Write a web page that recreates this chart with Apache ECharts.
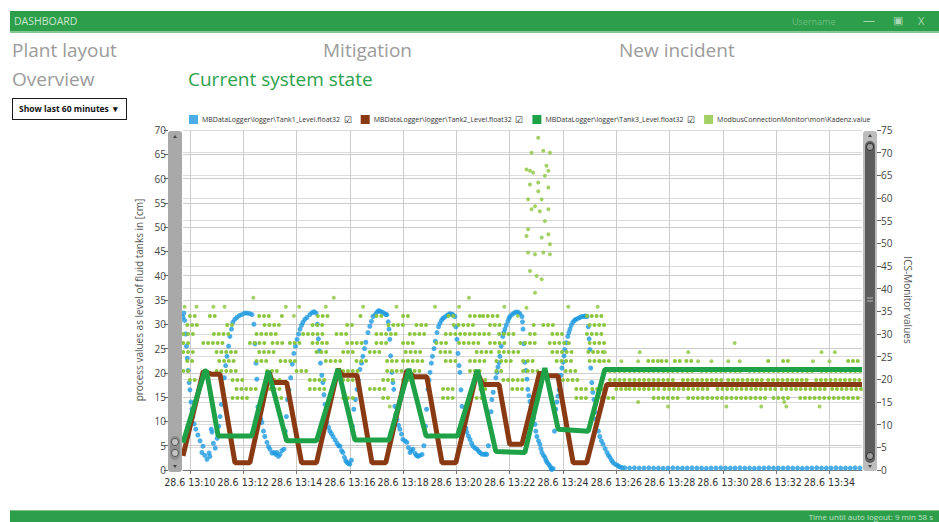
<!DOCTYPE html>
<html>
<head>
<meta charset="utf-8">
<title>Dashboard</title>
<script src="https://cdn.jsdelivr.net/npm/echarts@6/dist/echarts.min.js"></script>
<style>
  html, body { margin: 0; padding: 0; width: 939px; height: 522px; overflow: hidden; background: #fff; font-family: 'Open Sans', sans-serif; }
  #chart { position: absolute; left: 0; top: 0; width: 939px; height: 522px; }
  .bar { position: absolute; left: 10px; width: 929px; background: #2d9f4a; }
  .bar.top { top: 11px; height: 20px; border-bottom: 2px solid #86c893; }
  .bar.bottom { top: 510px; height: 12px; border-top: 1px solid #7cc48a; }
  .bar span { position: absolute; color: rgba(255,255,255,0.75); white-space: nowrap; }
  .txt { position: absolute; white-space: nowrap; color: #9b9b9b; font-size: 19px; line-height: 1; }
  .green { color: #2ba24b; }
  #range { position: absolute; left: 12px; top: 98px; width: 113px; height: 20px; border: 1.5px solid #1b1b1b;
           font-size: 8.5px; font-weight: bold; color: #111; line-height: 20px; }
</style>
</head>
<body>
<div id="chart"></div>

<div class="bar top">
  <span style="left:4px;top:3px;font-size:10.5px;">DASHBOARD</span>
  <span style="left:782px;top:4px;font-size:9px;color:rgba(255,255,255,0.3);">Username</span>
  <span style="left:853px;top:1px;font-size:12px;color:rgba(255,255,255,0.6);">&#8212;</span>
  <span style="left:883px;top:1px;font-size:11px;color:rgba(255,255,255,0.6);">&#9635;</span>
  <span style="left:908px;top:2px;font-size:11px;color:rgba(255,255,255,0.6);">X</span>
</div>
<div class="bar bottom">
  <span style="right:6px;top:0px;font-size:8px;color:rgba(255,255,255,0.7);">Time until auto logout: 9 min 58 s</span>
</div>

<div class="txt" style="left:12px;top:41px;">Plant layout</div>
<div class="txt" style="left:323px;top:41px;">Mitigation</div>
<div class="txt" style="left:619px;top:41px;">New incident</div>
<div class="txt" style="left:12px;top:70px;">Overview</div>
<div class="txt green" style="left:188px;top:70px;">Current system state</div>
<div id="range"><span style="margin-left:6px;">Show last 60 minutes</span><span style="position:absolute;right:8px;">&#9662;</span></div>

<script>
// x values are minutes after 13:00 on 28.6
var tickMinutes = [10, 12, 14, 16, 18, 20, 22, 24, 26, 28, 30, 32, 34];

var seriesNames = [
  'MBDataLogger\\logger\\Tank1_Level.float32',
  'MBDataLogger\\logger\\Tank2_Level.float32',
  'MBDataLogger\\logger\\Tank3_Level.float32',
  'ModbusConnectionMonitor\\mon\\Kadenz.value'
];

// Tank1 level [cm] (dots)
var tank1 = [
  [9.74,31.5],[9.77,32.3],[9.8,30.8],[9.84,28],[9.87,25.5],[9.9,23],[9.93,20.5],[9.97,18],[10.0,16.5],[10.04,14],
  [10.08,12.5],[10.11,11],[10.16,9.5],[10.22,8.4],[10.3,7.2],[10.38,6],[10.45,3.6],[10.49,4.9],[10.56,3],[10.64,2.2],
  [10.72,3.5],[10.75,2.8],[10.8,8.4],[10.83,7.8],[10.88,5.5],[10.95,4.5],[11.02,6.5],[11.08,9],[11.13,11],[11.18,13.5],
  [11.24,16.6],[11.29,19],[11.34,21.5],[11.39,23.4],[11.45,25.5],[11.5,27.5],[11.56,29],[11.61,30.4],[11.68,31],[11.76,31.4],
  [11.85,31.8],[11.95,32],[12.05,32.3],[12.14,32.3],[12.24,32.2],[12.33,32],
  [12.4,30],[12.44,26],[12.48,22],[12.51,18.7],[12.55,13],[12.6,11.5],[12.66,10.5],[12.7,9.8],[12.76,8],[12.81,6.9],
  [12.89,5.7],[12.95,4.8],[13.0,4.3],[13.08,3.5],[13.15,3.6],[13.22,3.2],[13.26,3.6],[13.32,2.8],[13.38,3.2],[13.45,4],
  [13.53,4.3],[13.58,8],[13.62,11],
  [13.66,14.5],[13.72,16.5],[13.78,19],[13.84,21.8],[13.9,24],[13.96,25.5],[14.02,26.9],[14.08,28],[14.13,29],[14.19,29.8],
  [14.24,30.4],[14.31,31],[14.39,31.4],[14.5,32],[14.58,32.4],[14.66,32.6],[14.73,32.3],
  [14.78,30],[14.82,27],[14.86,24.5],[14.9,22],[14.95,19.5],[14.99,18],[15.03,15.5],[15.07,13.5],[15.11,11.5],[15.14,9.8],
  [15.2,8.8],[15.25,8],[15.31,7.5],[15.37,6.9],[15.45,6.2],[15.52,5.5],[15.58,5],[15.63,4.9],[15.69,4],[15.74,3.6],
  [15.8,2.6],[15.85,1.9],[15.89,1.6],[15.95,1.3],[16.0,1.2],[16.06,2],
  [16.1,9],[16.15,12.5],[16.21,14.5],[16.27,16.6],[16.32,18.5],[16.38,20.7],[16.44,22],[16.49,23.4],[16.55,25],[16.6,26.3],
  [16.68,28.3],[16.75,29.6],[16.81,30.6],[16.87,31.6],[16.95,32],[17.02,32.5],[17.08,32.8],[17.13,32.7],[17.21,32.5],[17.28,32.3],
  [17.35,32],[17.39,32],
  [17.44,30.5],[17.47,29],[17.5,26.9],[17.53,23.5],[17.58,20.1],[17.62,18],[17.65,16.6],[17.69,13.1],[17.73,11.5],[17.77,10.4],
  [17.83,9.2],[17.88,8.4],[17.94,7.4],[17.99,6.3],[18.07,6],[18.14,5.7],[18.2,4.6],[18.26,3.6],[18.31,4],[18.37,4.3],
  [18.45,3.4],[18.5,3],[18.56,2.8],[18.63,3],[18.71,3.2],[18.78,5],
  [18.84,9],[18.88,12.5],[18.93,16.6],[18.97,18.5],[19.01,20.1],[19.06,22],[19.1,23.4],[19.16,25],[19.21,26.5],[19.27,28.3],
  [19.33,29.5],[19.38,30.2],[19.44,30.8],[19.49,31.2],[19.56,31.5],[19.64,31.8],[19.7,32],[19.76,32.2],[19.82,32],[19.87,32],
  [19.94,31.6],
  [19.98,29.5],[20.02,26.9],[20.06,24],[20.1,21.5],[20.13,20.1],[20.17,16.5],[20.21,13.1],[20.27,11],[20.32,9.8],[20.36,8.6],
  [20.39,7.8],[20.45,7],[20.51,6.3],[20.57,5.5],[20.62,4.9],[20.7,4.5],[20.77,4.3],[20.83,3.9],[20.88,3.6],[20.95,3.3],
  [21.03,3.2],[21.09,3.3],[21.14,3.2],[21.2,5],
  [21.26,9.5],[21.3,12],[21.33,14.5],[21.38,16],[21.44,17.6],[21.48,19],[21.52,20.1],[21.56,21.2],[21.6,22.1],[21.63,23.4],
  [21.68,25.5],[21.74,27.5],[21.78,28.3],[21.82,29],[21.87,29.8],[21.93,30.6],[21.97,31.2],[22.01,31.6],[22.08,32],[22.16,32.3],
  [22.23,32.5],[22.31,32.5],[22.38,32.2],[22.46,31.6],
  [22.48,30.5],[22.5,29],[22.53,26],[22.57,22.2],[22.61,20.5],[22.65,18.7],[22.68,16.6],[22.72,15.3],[22.76,14.1],[22.8,13],
  [22.83,11.9],[22.89,10.6],[22.95,9.4],[22.98,8],[23.02,6.9],[23.08,6],[23.13,5.3],[23.17,4.4],[23.21,3.6],[23.27,3],
  [23.32,2.6],[23.36,2],[23.4,1.6],[23.46,1.2],[23.51,0.8],[23.55,0.4],[23.58,0.1],[23.63,0.3],
  [23.68,8],[23.73,12.5],[23.77,14],[23.81,15.2],[23.85,16.5],[23.88,17.6],[23.92,19.5],[23.96,21],[24.0,22.2],[24.04,23.5],
  [24.07,24.8],[24.12,26.2],[24.18,27.5],[24.22,28.3],[24.26,29],[24.31,29.8],[24.37,30.4],[24.43,30.8],[24.48,31],[24.56,31.2],
  [24.63,31.4],[24.7,31.6],[24.78,31.6],[24.84,31.7],[24.9,31.6],
  [24.95,29.5],[24.98,27],[25.01,24.8],[25.04,21],[25.08,18],[25.12,16],[25.16,14.5],[25.2,11.9],[25.24,10.5],[25.27,9.4],
  [25.33,8],[25.38,6.9],[25.44,6],[25.5,5.3],[25.58,4.4],[25.65,3.6],[25.71,3],[25.76,2.6],[25.82,2],[25.87,1.6],
  [25.95,1.2],[26.03,1],[26.08,0.8],[26.14,0.6],[26.22,0.5],[26.32,0.45],
  [26.5,0.4],[26.68,0.45],[26.86,0.4],[27.04,0.4],[27.22,0.45],[27.4,0.4],[27.58,0.4],[27.76,0.35],[27.94,0.4],[28.12,0.45],
  [28.3,0.4],[28.48,0.4],[28.66,0.4],[28.84,0.45],[29.02,0.4],[29.2,0.4],[29.38,0.35],[29.56,0.4],[29.74,0.4],[29.92,0.45],
  [30.1,0.4],[30.28,0.4],[30.46,0.4],[30.64,0.45],[30.82,0.4],[31.0,0.4],[31.18,0.35],[31.36,0.4],[31.54,0.4],[31.72,0.45],
  [31.9,0.4],[32.08,0.4],[32.26,0.4],[32.44,0.45],[32.62,0.4],[32.8,0.4],[32.98,0.35],[33.16,0.4],[33.34,0.4],[33.52,0.45],
  [33.7,0.4],[33.88,0.4],[34.06,0.4],[34.24,0.45],[34.42,0.4],[34.6,0.4],[34.78,0.4],[34.96,0.45],[35.14,0.4]
];

// Tank2 level [cm]
var tank2 = [
  [9.74,2.9],[10.5,20.3],[10.83,19.7],[11.13,19.7],[11.69,1.5],[12.25,1.5],[12.98,20],[13.1,18],[13.63,18],[14.19,1.5],
  [14.75,1.5],[15.56,20.8],[15.7,19.5],[16.27,19.5],[16.83,1.5],[17.35,1.5],[18.14,20.5],[18.4,19.2],[18.89,19.2],[19.46,1.5],
  [19.98,1.5],[20.77,20.2],[20.99,17.6],[21.6,17.6],[22.0,5.3],[22.46,5.3],[23.13,20.2],[23.21,19.4],[23.81,19.4],[24.38,1.5],
  [24.89,1.5],[25.64,17.6],[35.22,17.6]
];

// Tank3 level [cm]
var tank3 = [
  [9.74,5.6],[10.56,20.4],[10.62,20.4],[11.06,7],[12.32,7],[12.94,20.4],[13.63,6],[14.75,6],[15.56,20.8],[16.19,6.2],
  [17.47,6.2],[18.22,20.8],[18.86,7],[20.04,7],[20.79,20.6],[21.48,3.8],[22.57,3.6],[23.32,21],[23.82,8.4],[24.95,8],
  [25.57,20.7],[35.22,20.7]
];

// ICS monitor (Kadenz) single dots [minute, value]
var kadenzDots = [
  [9.8,36],[10.25,36],[10.88,36],[11.3,36],[12.38,38],[13.6,36],[14.1,36],[15.1,36],[15.4,38],[16.5,36],
  [17.75,36],[19.2,36],[20.1,36],[20.47,38],[21.8,36],[24.2,36],[25.3,36],[17.5,14],[13.9,34],[22.3,34],
  [23.07,73.3],[22.82,70],[23.26,70.4],[23.51,70],[22.63,66.3],[22.76,66],[22.88,65.6],[23.38,67.1],[23.45,66],[23.32,64.9],
  [23.07,63.4],[22.76,63],[23.45,62.3],[23.07,61.5],[22.69,59.7],[23.2,59.7],[22.95,58.2],[22.82,57.5],[23.45,57.5],[23.13,57.1],
  [23.32,54.9],[22.69,53.1],[23.2,51.3],[22.63,51.6],[23.45,52],[23.51,49.8],[22.69,48],[22.95,47.6],[23.26,48],[23.51,47.6],
  [22.76,43.9],[23.01,42.8],[23.2,42.1],[22.95,39.1],[22.63,35.8],
  [25.38,24],[26.19,24],[26.82,24],[29.07,24],[29.57,24],[30.2,24],[30.63,24],[33.38,24],[34.0,24],
  [25.57,26],[26.88,26],[28.7,26],[33.7,26],[34.2,26],[30.44,28],
  [27.94,14],[30.13,14],[31.44,14],[32.38,14],[33.63,14],[26.82,15],[32.3,15]
];

// ICS monitor (Kadenz) runs of dots [from minute, to minute, value]
var kadenzDashes = [
  [10.0,10.2,34],[10.75,10.95,34],[12.6,13.0,34],[13.45,13.6,34],[14.8,15.25,34],[16.4,16.5,34],[17.0,17.2,34],[18.0,18.25,34],
  [19.7,19.9,34],[20.51,20.9,34],[21.0,21.6,34],[24.9,25.6,34],
  [9.9,10.4,32],[11.4,11.75,32],[12.8,13.5,32],[14.6,15.1,32],[15.9,16.25,32],[17.45,18.0,32],[18.5,18.9,32],[19.9,20.76,32],
  [21.26,21.76,32],[22.9,23.0,32],[23.26,23.76,32],[25.0,25.6,32],
  [9.75,10.25,30],[10.9,11.6,30],[12.5,13.4,30],[14.25,15.1,30],[15.5,16.0,30],[17.0,17.75,30],[18.25,18.85,30],[19.6,21.26,30],
  [21.6,22.26,30],[22.76,23.1,30],[23.6,24.1,30],[24.9,25.6,30],
  [9.75,10.0,28],[10.5,11.4,28],[12.25,12.9,28],[13.1,13.5,28],[13.75,14.25,28],[14.6,15.25,28],[15.9,16.5,28],[17.0,17.4,28],
  [18.0,18.5,28],[19.25,19.75,28],[20.1,21.0,28],[21.26,21.9,28],[22.4,23.0,28],[23.5,24.26,28],[25.0,25.6,28],
  [9.75,10.25,26],[11.0,11.75,26],[12.6,13.25,26],[14.75,15.25,26],[15.75,16.25,26],[16.75,17.25,26],[18.1,18.75,26],[19.4,19.9,26],
  [20.76,21.4,26],[21.6,22.4,26],[23.6,24.4,26],[24.95,25.5,26],
  [9.9,10.1,24],[11.1,11.75,24],[12.5,13.0,24],[13.4,14.0,24],[15.1,15.75,24],[16.25,16.75,24],[17.4,17.9,24],[18.0,18.75,24],
  [19.6,20.1,24],[20.51,21.1,24],[21.5,22.1,24],[22.5,23.0,24],[23.76,24.4,24],[25.0,25.76,24],
  [9.75,10.0,22],[11.0,11.75,22],[12.9,13.4,22],[14.0,14.5,22],[15.75,16.4,22],[17.4,18.0,22],[18.25,18.75,22],[20.51,21.0,22],
  [21.5,21.76,22],[22.5,23.1,22],[24.1,24.5,22],[25.76,26.4,22],
  [10.0,10.25,20],[11.6,12.1,20],[13.0,13.5,20],[14.5,15.1,20],[15.75,16.25,20],[17.25,17.75,20],[18.0,18.5,20],[20.9,21.26,20],
  [21.76,22.5,20],[24.0,24.6,20],[25.76,26.4,20],
  [11.75,12.5,18],[13.0,13.4,18],[14.5,15.1,18],[16.75,17.4,18],[19.5,20.0,18],[20.9,21.1,18],[22.1,22.5,18],[24.5,25.0,18],
  [25.1,25.6,18],[26.0,26.4,18],
  [11.6,12.25,16],[13.25,13.6,16],[15.75,16.25,16],[17.25,17.5,16],[19.5,19.9,16],[20.76,21.0,16],[24.5,24.9,16],[25.26,25.6,16],
  [27.2,27.57,24],[27.7,28.0,24],[28.2,28.45,24],[28.63,28.82,24],[31.7,31.88,24],[32.26,32.5,24],[34.7,35.2,24],
  [26.5,29.0,22],[29.2,30.7,22],[31.0,33.5,22],[33.7,35.2,22],
  [26.5,28.3,20],[28.5,30.0,20],[30.2,31.5,20],[31.7,33.3,20],[33.5,35.2,20],
  [26.5,27.6,18],[27.8,29.6,18],[29.8,32.0,18],[32.2,33.9,18],[34.1,35.2,18],
  [25.7,26.0,16],[27.4,28.4,16],[28.7,31.6,16],[31.9,32.6,16],[32.9,35.2,16]
];

var colors = ['#1e9ae0', '#8a3a12', '#1fa247', '#8cc63f'];

var chart = echarts.init(document.getElementById('chart'), null, { renderer: 'svg' });

var option = {
  animation: false,
  textStyle: { fontFamily: 'Open Sans' },
  grid: { left: 183, right: 77, top: 130, bottom: 52 },
  legend: {
    left: 184, top: 110,
    icon: 'rect', itemWidth: 9, itemHeight: 9, itemGap: 9,
    textStyle: {
      fontSize: 7, color: '#333', padding: [0, 0, 0, -1],
      rich: { box: { fontSize: 9, color: '#333' } }
    },
    formatter: function (name) {
      return name === seriesNames[3] ? name : name + '  {box|\u2611}';
    },
    data: seriesNames
  },
  xAxis: {
    type: 'value', min: 9.74, max: 35.22,
    axisLine: { lineStyle: { color: '#777' } },
    axisTick: { customValues: tickMinutes, length: 4, lineStyle: { color: '#777' } },
    axisLabel: {
      customValues: tickMinutes, fontSize: 10.5, color: '#333', margin: 6,
      fontFamily: "'Liberation Sans Narrow', 'DejaVu Sans Condensed', 'Roboto Condensed', 'Open Sans'",
      formatter: function (v) { return '28.6 13:' + v; }
    },
    splitLine: { show: true, lineStyle: { color: '#cccccc' } }
  },
  yAxis: [{
    type: 'value', position: 'left', offset: 15, min: 0, max: 70, interval: 5,
    name: 'process values as level of fluid tanks in [cm]',
    nameLocation: 'middle', nameGap: 15,
    nameTextStyle: { fontSize: 10, color: '#555' },
    axisLine: { show: false },
    axisTick: { show: true, length: 4, lineStyle: { color: '#666' } },
    axisLabel: { fontSize: 10, color: '#444', margin: 2 },
    splitLine: { lineStyle: { color: '#cccccc' } }
  }, {
    type: 'value', position: 'right', offset: 15, min: 0, max: 75, interval: 5,
    name: 'ICS-Monitor values',
    nameLocation: 'middle', nameGap: 16, nameRotate: -90,
    nameTextStyle: { fontSize: 10, color: '#555' },
    axisLine: { show: false },
    axisTick: { show: true, length: 4, lineStyle: { color: '#666' } },
    axisLabel: { fontSize: 10, color: '#444', margin: 4 },
    splitLine: { lineStyle: { color: '#dcdcdc' } }
  }],
  graphic: [
    // left scrollbar
    { type: 'rect', shape: { x: 168, y: 131, width: 14, height: 341, r: 3 }, style: { fill: '#a9a9a9' }, z: 10 },
    { type: 'polygon', shape: { points: [[173, 138], [177, 138], [175, 135]] }, style: { fill: '#444' }, z: 11 },
    { type: 'polygon', shape: { points: [[173, 465], [177, 465], [175, 468]] }, style: { fill: '#444' }, z: 11 },
    { type: 'rect', shape: { x: 170, y: 436, width: 10, height: 24, r: 5 }, style: { fill: '#8d8d8d' }, z: 11 },
    { type: 'circle', shape: { cx: 175, cy: 442, r: 3.5 }, style: { fill: '#c4c4c4', stroke: '#555', lineWidth: 1 }, z: 12 },
    { type: 'circle', shape: { cx: 175, cy: 453, r: 3.5 }, style: { fill: '#c4c4c4', stroke: '#555', lineWidth: 1 }, z: 12 },
    // right scrollbar
    { type: 'rect', shape: { x: 863, y: 131, width: 14, height: 340, r: 3 }, style: { fill: '#bdbdbd' }, z: 10 },
    { type: 'rect', shape: { x: 865, y: 141, width: 10, height: 322, r: 5 }, style: { fill: '#5d5d5d' }, z: 11 },
    { type: 'polygon', shape: { points: [[868, 137], [872, 137], [870, 134]] }, style: { fill: '#444' }, z: 11 },
    { type: 'polygon', shape: { points: [[868, 465], [872, 465], [870, 468]] }, style: { fill: '#444' }, z: 11 },
    { type: 'circle', shape: { cx: 870, cy: 147, r: 3.5 }, style: { fill: '#9c9c9c', stroke: '#333', lineWidth: 1 }, z: 12 },
    { type: 'circle', shape: { cx: 870, cy: 456, r: 3.5 }, style: { fill: '#9c9c9c', stroke: '#333', lineWidth: 1 }, z: 12 },
    { type: 'line', shape: { x1: 867, y1: 298, x2: 873, y2: 298 }, style: { stroke: '#bbb', lineWidth: 1 }, z: 12 },
    { type: 'line', shape: { x1: 867, y1: 301, x2: 873, y2: 301 }, style: { stroke: '#bbb', lineWidth: 1 }, z: 12 }
  ],
  series: [{
    name: seriesNames[0], type: 'scatter', data: tank1,
    symbolSize: 5, itemStyle: { color: colors[0] }, z: 2
  }, {
    name: seriesNames[1], type: 'line', data: tank2,
    symbol: 'none', itemStyle: { color: colors[1] },
    lineStyle: { width: 5, color: colors[1] }, z: 4
  }, {
    name: seriesNames[2], type: 'line', data: tank3,
    symbol: 'none', itemStyle: { color: colors[2] },
    lineStyle: { width: 5, color: colors[2] }, z: 5
  }, {
    name: seriesNames[3], type: 'scatter', yAxisIndex: 1, data: kadenzDots,
    symbolSize: 4, itemStyle: { color: colors[3] }, z: 3
  }, {
    name: seriesNames[3], type: 'lines', coordinateSystem: 'cartesian2d', yAxisIndex: 1,
    data: kadenzDashes.map(function (d) {
      return { coords: [[d[0], d[2]], [d[1], d[2]]] };
    }),
    lineStyle: { color: colors[3], width: 4, type: [0, 4.8], cap: 'round', opacity: 1 },
    z: 3
  }]
};

chart.setOption(option);
</script>
</body>
</html>
